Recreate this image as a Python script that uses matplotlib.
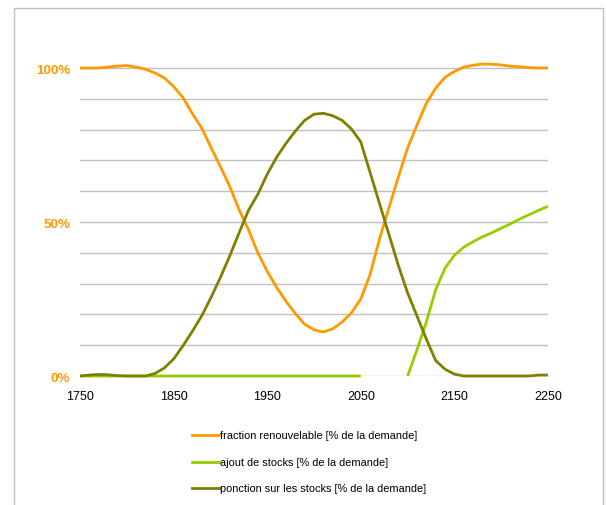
import numpy as np
import matplotlib
matplotlib.use("Agg")
import matplotlib.pyplot as plt
from matplotlib.lines import Line2D
from matplotlib.patches import Rectangle

plt.rcParams['font.family'] = ['Liberation Sans', 'DejaVu Sans']

years = list(range(1750, 2251, 10))

renouvelable = [100, 100, 100, 100.3, 100.6, 100.8, 100.3, 99.6, 98.4, 96.8,
                94.0, 90.4, 85.2, 80.5, 74.2, 68.0, 61.5, 54.0, 47.5, 40.0,
                34.0, 28.8, 24.3, 20.3, 16.8, 15.0, 14.3, 15.3, 17.5, 20.5,
                25.0, 33.0, 44.5, 54.5, 64.5, 74.0, 81.5, 88.5, 93.5, 97.0,
                98.9, 100.3, 100.9, 101.3, 101.2, 101.0, 100.6, 100.4, 100.1, 100.0,
                100.0]

ajout = [0] * 31 + [np.nan, np.nan, np.nan, np.nan] + \
        [0, 8.5, 17.5, 28.0, 35.0, 39.2, 41.8, 43.6, 45.2, 46.5, 48.0, 49.4,
         51.0, 52.4, 53.8, 55.1]

ponction = [0, 0.3, 0.5, 0.4, 0.1, 0, 0, 0, 0.8, 2.6,
            5.5, 9.8, 14.5, 19.5, 25.5, 32.0, 39.0, 46.5, 53.8, 59.0,
            65.5, 71.0, 75.5, 79.5, 83.0, 85.0, 85.3, 84.5, 83.0, 80.2,
            76.0, 66.0, 56.0, 46.0, 36.0, 27.0, 19.5, 12.0, 5.0, 2.2,
            0.6, 0, 0, 0, 0, 0, 0, 0, 0, 0.3, 0.3]

labels = ["fraction renouvelable [% de la demande]",
          "ajout de stocks [% de la demande]",
          "ponction sur les stocks [% de la demande]"]
colors = ["#FF9900", "#99CC00", "#808000"]

xticks = [1750, 1850, 1950, 2050, 2150, 2250]
yticks = [0, 50, 100]
ytick_labels = ["0%", "50%", "100%"]

W, H = 607, 506
fig = plt.figure(figsize=(W / 100, H / 100), dpi=100)

# outer border
fig.patches.append(Rectangle((14 / W, -0.05), (603 - 14) / W, 1.05 - 8.5 / H,
                             transform=fig.transFigure, fill=False,
                             edgecolor="#BFBFBF", linewidth=1.0))

ytop = 110
left, right = 80 / W, 548 / W
y0 = 377
ypx_top = y0 - ytop / 100 * 308
ax = fig.add_axes([left, 1 - y0 / H, right - left, (y0 - ypx_top) / H])

for s in ax.spines.values():
    s.set_visible(False)
ax.set_xlim(1750, 2250)
ax.set_ylim(0, ytop)

for g in range(0, 101, 10):
    ax.axhline(g, color="#C0C0C0", linewidth=1.0, zorder=1)

series = [renouvelable, ajout, ponction]
for vals, c in zip(series, colors):
    ax.plot(years, vals, color=c, linewidth=2.0, zorder=3,
            solid_joinstyle="round", solid_capstyle="butt", clip_on=False)

ax.set_xticks(xticks)
ax.set_xticklabels([str(x) for x in xticks], fontsize=9, color="black")
ax.set_yticks(yticks)
ax.set_yticklabels(ytick_labels, fontsize=9.6, color="#FF9900", fontweight="bold")
ax.tick_params(axis="both", length=0)
ax.tick_params(axis="x", pad=10)
ax.tick_params(axis="y", pad=7)

# legend
leg_y = [436, 463, 489]
for lab, c, yy in zip(labels, colors, leg_y):
    fig.add_artist(Line2D([192 / W, 219 / W], [1 - yy / H, 1 - yy / H],
                          transform=fig.transFigure, color=c, linewidth=2.0))
    fig.text(220 / W, 1 - yy / H, lab, fontsize=7.9, va="center", ha="left",
             color="black")

fig.savefig("out.png", dpi=100)
